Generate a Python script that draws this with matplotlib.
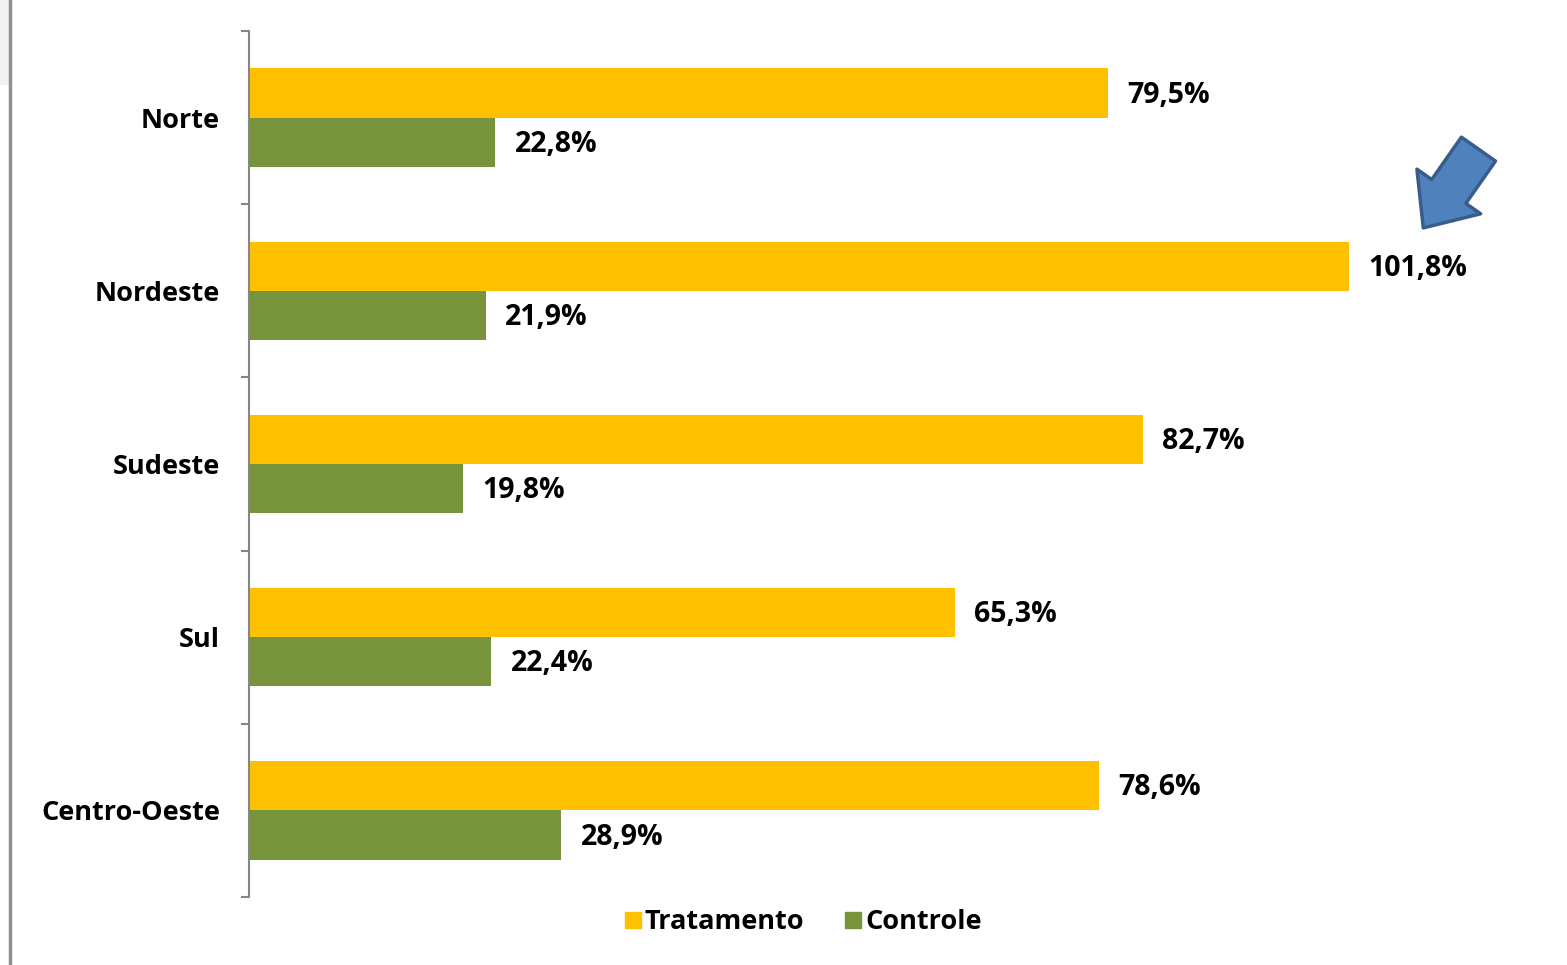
import numpy as np
import matplotlib.pyplot as plt
from matplotlib.lines import Line2D
from matplotlib.patches import Rectangle

# data
regioes = ["Norte", "Nordeste", "Sudeste", "Sul", "Centro-Oeste"]
tratamento = [79.5, 101.8, 82.7, 65.3, 78.6]
controle = [22.8, 21.9, 19.8, 22.4, 28.9]
series_names = ["Tratamento", "Controle"]

COR_TRAT = "#FFC000"
COR_CTRL = "#77933C"
FONT = "Open Sans"
FS = 19.5

plt.rcParams["font.family"] = [FONT, "DejaVu Sans"]

fig = plt.figure(figsize=(15.67, 9.65), dpi=100)
ax = fig.add_axes([249 / 1567, 1 - 897 / 965, (1546 - 249) / 1567, (897 - 31) / 965])

y = np.arange(len(regioes))
h = 0.284  # bar height in band units

ax.barh(y - h / 2, tratamento, height=h, color=COR_TRAT, label=series_names[0])
ax.barh(y + h / 2, controle, height=h, color=COR_CTRL, label=series_names[1])

fmt = lambda v: f"{v:.1f}".replace(".", ",") + "%"
for i in range(len(regioes)):
    ax.annotate(fmt(tratamento[i]), (tratamento[i], y[i] - h / 2), xytext=(14, -1.5),
                textcoords="offset points", va="center", ha="left",
                fontsize=20.5, fontweight="bold")
    ax.annotate(fmt(controle[i]), (controle[i], y[i] + h / 2), xytext=(14, -1.5),
                textcoords="offset points", va="center", ha="left",
                fontsize=20.5, fontweight="bold")

ax.set_xlim(0, 120)
ax.set_ylim(len(regioes) - 0.5, -0.5)

# axis styling
for s in ["top", "right", "bottom"]:
    ax.spines[s].set_visible(False)
ax.spines["left"].set_color("#868686")
ax.spines["left"].set_linewidth(1.5)
ax.set_xticks([])
ax.set_yticks(y)
ax.set_yticklabels(regioes, fontsize=FS, fontweight="bold")
ax.tick_params(axis="y", which="major", length=0, pad=21)
ax.set_yticks(np.arange(-0.5, len(regioes)), minor=True)
ax.tick_params(axis="y", which="minor", length=6, width=1.5, color="#868686")

# blue block arrow pointing at the Nordeste value
idx = regioes.index("Nordeste")
ax.annotate("", xy=(tratamento[idx] + 6.7, idx - 0.35), xytext=(42, 60),
            textcoords="offset points",
            arrowprops=dict(arrowstyle="simple,head_length=1.6,head_width=2.8,tail_width=1.5",
                            mutation_scale=20, fc="#4F81BD", ec="#385D8A", lw=2.5))

# legend
handles = [Line2D([], [], marker="s", ls="", color=COR_TRAT, markersize=12),
           Line2D([], [], marker="s", ls="", color=COR_CTRL, markersize=12)]
fig.legend(handles, series_names, loc="center", bbox_to_anchor=(802 / 1567, 1 - 922 / 965),
           ncol=2, frameon=False, prop=dict(family=FONT, size=FS, weight="bold"),
           handletextpad=0.05, columnspacing=1.4, handlelength=0.8)

# frame line on the left edge of the picture
fig.add_artist(Rectangle((0, 1 - 85 / 965), 9 / 1567, 85 / 965, transform=fig.transFigure,
                         color="#F2F2F2", lw=0))
fig.add_artist(Line2D([10 / 1567, 10 / 1567], [0, 1], transform=fig.transFigure,
                      color="#909090", lw=2.5))

fig.savefig("out.png", dpi=100)
